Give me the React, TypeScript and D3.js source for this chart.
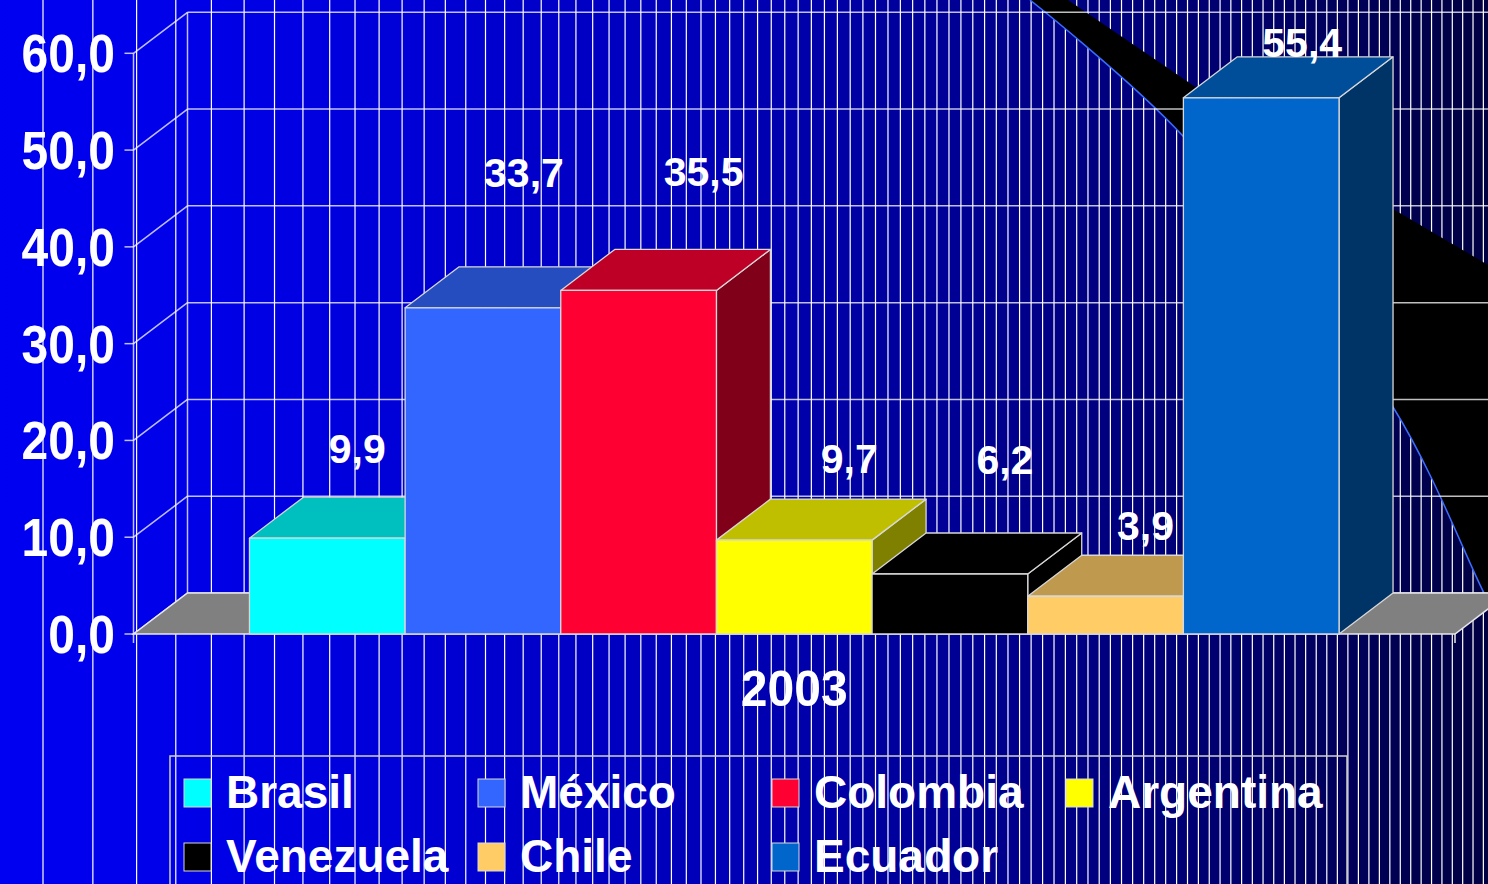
import { useEffect, useRef } from 'react';
import * as d3 from 'd3';

// chart data
const countries = ['Brasil', 'México', 'Colombia', 'Argentina', 'Venezuela', 'Chile', 'Ecuador'];
const values = [9.9, 33.7, 35.5, 9.7, 6.2, 3.9, 55.4];
const barColors = ['#00FFFF', '#3366FF', '#FF0033', '#FFFF00', '#000000', '#FFCC66', '#0066CC'];
const yTicks = [0, 10, 20, 30, 40, 50, 60];
const yearLabel = '2003';

// value labels were hand placed in the original slide: offset from the top face centre
const labelNudge: [number, number][] = [
  [3, -55], [14, -100], [38, -84], [28, -47], [28, -79], [13, -36], [14, -20]
];

const W = 1488;
const H = 884;
const FONT = "'Liberation Sans', Arial, sans-serif";

const fmt = d3.formatLocale({ decimal: ',', thousands: '.', grouping: [3], currency: ['', ''] }).format('.1f');

const shade = (c: string, f: number) => {
  const r = d3.rgb(c);
  return d3.rgb(r.r * f, r.g * f, r.b * f).formatHex();
};

export default function App() {
  const svgRef = useRef<SVGSVGElement>(null);

  useEffect(() => {
    if (!svgRef.current) return;
    const svg = d3.select(svgRef.current);
    svg.selectAll('*').remove();

    // 3d frame
    const depth = { x: 54, y: -41 };
    const floorY = 634;

    const x = d3.scaleBand<string>()
      .domain(countries)
      .range([133.5, 1455])
      .paddingInner(0)
      .paddingOuter(0.745);

    const y = d3.scaleLinear().domain([0, 60]).range([floorY, 53.3]);

    // background gradient
    const defs = svg.append('defs');
    const grad = defs.append('linearGradient')
      .attr('id', 'bgGrad')
      .attr('x1', '0%').attr('x2', '100%')
      .attr('y1', '0%').attr('y2', '0%');
    [
      [0, '#0000F2'], [0.2, '#0000E2'], [0.5, '#0000B4'],
      [0.67, '#00008E'], [0.82, '#000070'], [1, '#000042']
    ].forEach(([o, c]) => grad.append('stop').attr('offset', o as number).attr('stop-color', c as string));

    svg.append('rect').attr('width', W).attr('height', H).attr('fill', 'url(#bgGrad)');

    // template stripes, getting denser to the right
    const stripes: number[] = [];
    for (let sx = 43; sx < W; sx += 10 + 46 * Math.exp(-sx / 300)) stripes.push(sx);
    svg.append('g')
      .selectAll('line')
      .data(stripes)
      .enter()
      .append('line')
      .attr('x1', d => d).attr('x2', d => d)
      .attr('y1', 0).attr('y2', H)
      .attr('stroke', '#ffffff')
      .attr('stroke-width', 1.2);

    // black swoosh of the slide template
    const upper: [number, number][] = [[1068, 0], [1197, 88], [1393, 209], [1500, 272]];
    const lower: [number, number][] = [[1500, 622], [1485, 595], [1393, 407], [1182, 135], [1030, 0]];
    const lowerPath = d3.line().curve(d3.curveCatmullRom)(lower) || '';
    svg.append('path')
      .attr('d', `${d3.line()(upper)}L${lowerPath.slice(1)}Z`)
      .attr('fill', '#000000');
    svg.append('path')
      .attr('d', lowerPath)
      .attr('fill', 'none')
      .attr('stroke', '#3a6cff')
      .attr('stroke-width', 1.5);

    // walls: gridlines
    const grid = svg.append('g')
      .attr('stroke', '#ffffff')
      .attr('stroke-opacity', 0.75)
      .attr('stroke-width', 1.5)
      .attr('fill', 'none');

    const x0 = x.range()[0];
    const x1 = x.range()[1];

    yTicks.forEach(t => {
      grid.append('line')
        .attr('x1', x0 + depth.x).attr('y1', y(t) + depth.y)
        .attr('x2', W).attr('y2', y(t) + depth.y);
      grid.append('line')
        .attr('x1', x0).attr('y1', y(t))
        .attr('x2', x0 + depth.x).attr('y2', y(t) + depth.y);
      grid.append('line')
        .attr('x1', x0 - 9).attr('y1', y(t))
        .attr('x2', x0).attr('y2', y(t));
    });
    grid.append('line')
      .attr('x1', x0 + depth.x).attr('y1', y(60) + depth.y)
      .attr('x2', x0 + depth.x).attr('y2', floorY + depth.y);
    grid.append('line')
      .attr('x1', x0).attr('y1', y(60))
      .attr('x2', x0).attr('y2', floorY + 9);

    // floor
    svg.append('path')
      .attr('d', `M${x0},${floorY}L${x1},${floorY}L${x1 + depth.x},${floorY + depth.y}L${x0 + depth.x},${floorY + depth.y}Z`)
      .attr('fill', '#808080')
      .attr('stroke', '#e8e8e8')
      .attr('stroke-width', 1.5);
    svg.append('line')
      .attr('x1', x1).attr('x2', x1)
      .attr('y1', floorY).attr('y2', floorY + 9)
      .attr('stroke', '#e8e8e8')
      .attr('stroke-width', 1.5);

    // bars, left to right so each one hides its neighbour's side
    const bw = x.bandwidth();
    const bars = svg.append('g')
      .attr('stroke', '#d8d8d8')
      .attr('stroke-width', 1.3)
      .attr('stroke-linejoin', 'round');

    countries.forEach((c, i) => {
      const bx = x(c)!;
      const top = y(values[i]);
      const col = barColors[i];
      const g = bars.append('g');
      // side
      g.append('path')
        .attr('d', `M${bx + bw},${top}L${bx + bw + depth.x},${top + depth.y}L${bx + bw + depth.x},${floorY + depth.y}L${bx + bw},${floorY}Z`)
        .attr('fill', shade(col, 0.5));
      // top
      g.append('path')
        .attr('d', `M${bx},${top}L${bx + depth.x},${top + depth.y}L${bx + bw + depth.x},${top + depth.y}L${bx + bw},${top}Z`)
        .attr('fill', shade(col, 0.75));
      // front
      g.append('rect')
        .attr('x', bx).attr('y', top)
        .attr('width', bw).attr('height', floorY - top)
        .attr('fill', col);
    });

    // value labels
    svg.append('g')
      .selectAll('text')
      .data(countries)
      .enter()
      .append('text')
      .attr('x', (d, i) => x(d)! + bw / 2 + depth.x / 2 + labelNudge[i][0])
      .attr('y', (d, i) => y(values[i]) + depth.y / 2 + labelNudge[i][1])
      .attr('text-anchor', 'middle')
      .attr('font-family', FONT)
      .attr('font-weight', 'bold')
      .attr('font-size', 41)
      .attr('fill', '#ffffff')
      .text((d, i) => fmt(values[i]));

    // y axis labels
    svg.append('g')
      .selectAll('text')
      .data(yTicks)
      .enter()
      .append('text')
      .attr('transform', d => `translate(115,${y(d) + 19}) scale(1,1.1)`)
      .attr('text-anchor', 'end')
      .attr('font-family', FONT)
      .attr('font-weight', 'bold')
      .attr('font-size', 48)
      .attr('fill', '#ffffff')
      .text(d => fmt(d));

    // category label
    svg.append('text')
      .attr('transform', `translate(${(x0 + x1) / 2},706) scale(1,1.05)`)
      .attr('text-anchor', 'middle')
      .attr('font-family', FONT)
      .attr('font-weight', 'bold')
      .attr('font-size', 48)
      .attr('fill', '#ffffff')
      .text(yearLabel);

    // legend
    const legend = svg.append('g');
    legend.append('rect')
      .attr('x', 170).attr('y', 756)
      .attr('width', 1177).attr('height', 200)
      .attr('fill', 'none')
      .attr('stroke', '#d0d0d0')
      .attr('stroke-width', 1.5);

    const items = legend.selectAll('g.item')
      .data(countries)
      .enter()
      .append('g')
      .attr('class', 'item')
      .attr('transform', (d, i) => `translate(${184 + (i % 4) * 294},${779 + Math.floor(i / 4) * 64})`);

    items.append('rect')
      .attr('width', 27).attr('height', 28)
      .attr('fill', (d, i) => barColors[i])
      .attr('stroke', '#d8d8d8')
      .attr('stroke-width', 1);

    items.append('text')
      .attr('x', 42).attr('y', 29)
      .attr('font-family', FONT)
      .attr('font-weight', 'bold')
      .attr('font-size', 46)
      .attr('fill', '#ffffff')
      .text(d => d);
  }, []);

  return (
    <svg
      ref={svgRef}
      width={W}
      height={H}
      style={{ position: 'absolute', left: 0, top: 0, display: 'block' }}
    ></svg>
  );
}
